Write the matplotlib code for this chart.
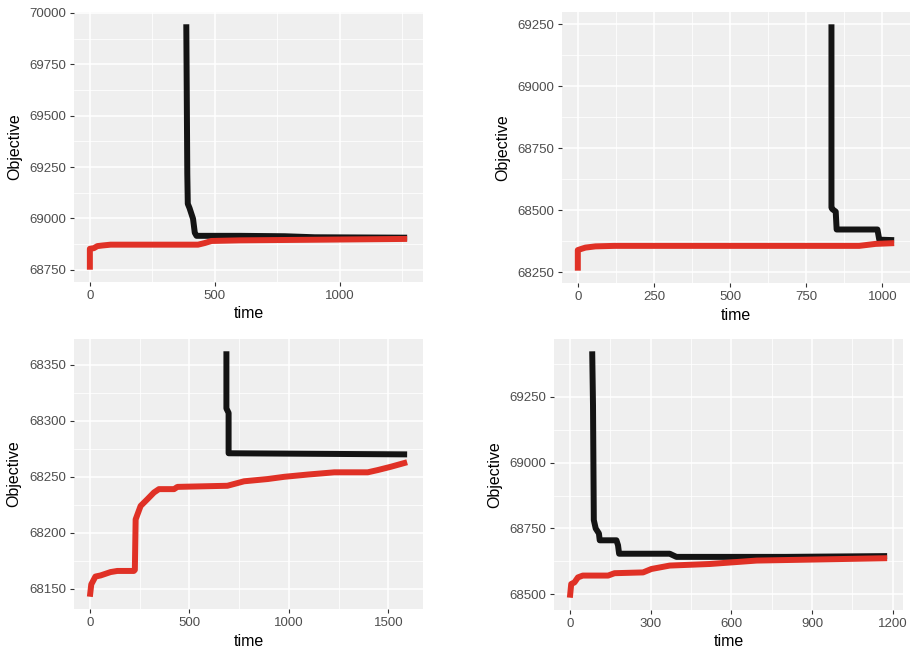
import numpy as np
import matplotlib.pyplot as plt
from matplotlib.ticker import MultipleLocator

plt.rcParams['font.family'] = ['Liberation Sans', 'DejaVu Sans']

# ---- panel 1 (top-left) ----
p1_black_t = [386, 390, 392, 399, 413, 420, 427, 600, 780, 900, 1270]
p1_black_y = [69945, 69217, 69071, 69050, 68998, 68930, 68915, 68915, 68913, 68908, 68906]
p1_red_t = [0, 0, 16, 30, 50, 83, 200, 433, 460, 487, 600, 900, 1270]
p1_red_y = [68750, 68852, 68855, 68865, 68868, 68872, 68872, 68872, 68880, 68890, 68893, 68896, 68900]

# ---- panel 2 (top-right) ----
p2_black_t = [833, 833, 836, 847, 850, 984, 990, 1039]
p2_black_y = [69250, 68511, 68505, 68495, 68423, 68423, 68382, 68380]
p2_red_t = [0, 0, 12, 25, 58, 120, 500, 924, 978, 1039]
p2_red_y = [68257, 68340, 68345, 68350, 68355, 68357, 68357, 68357, 68365, 68368]

# ---- panel 3 (bottom-left) ----
p3_black_t = [686, 686, 697, 697, 1594]
p3_black_y = [68362, 68311, 68307, 68271, 68270]
p3_red_t = [0, 7, 28, 54, 104, 138, 221, 226, 230, 255, 289, 322, 347, 423, 440,
            691, 775, 893, 977, 1094, 1228, 1396, 1446, 1513, 1594]
p3_red_y = [68143, 68154, 68161, 68162, 68165, 68166, 68166, 68167, 68212, 68224, 68230,
            68236, 68239, 68239, 68241, 68242, 68246, 68248, 68250, 68252, 68254, 68254,
            68256, 68259, 68263]

# ---- panel 4 (bottom-right) ----
p4_black_t = [83, 86, 89, 96, 108, 111, 173, 179, 183, 371, 396, 800, 1179]
p4_black_y = [69423, 69218, 68782, 68750, 68731, 68705, 68705, 68686, 68654, 68654, 68642, 68642, 68645]
p4_red_t = [0, 5, 17, 30, 48, 142, 166, 272, 303, 371, 520, 694, 1179]
p4_red_y = [68487, 68539, 68545, 68564, 68571, 68571, 68580, 68583, 68596, 68609, 68615, 68628, 68637]

panels = [
    (p1_black_t, p1_black_y, p1_red_t, p1_red_y, 500, 250, [74, 12, 423, 282]),
    (p2_black_t, p2_black_y, p2_red_t, p2_red_y, 250, 250, [562, 12, 910, 283]),
    (p3_black_t, p3_black_y, p3_red_t, p3_red_y, 500, 50, [74, 339, 423, 609]),
    (p4_black_t, p4_black_y, p4_red_t, p4_red_y, 300, 250, [554, 339, 903, 610]),
]

W, H = 912, 653
fig = plt.figure(figsize=(W / 100, H / 100), dpi=100)

for bt, by, rt, ry, xstep, ystep, box in panels:
    l, t, r, b = box
    ax = fig.add_axes([l / W, 1 - b / H, (r - l) / W, (b - t) / H])
    ax.set_facecolor('#EFEFEF')
    for s in ax.spines.values():
        s.set_visible(False)

    ax.plot(bt, by, color='#141414', lw=4.3, solid_capstyle='butt', zorder=3)
    ax.plot(rt, ry, color='#E03126', lw=4.3, solid_capstyle='butt', zorder=4)

    # ggplot-style 5% expansion
    allt = bt + rt
    ally = by + ry
    xr = max(allt) - min(allt)
    yr = max(ally) - min(ally)
    ax.set_xlim(min(allt) - 0.05 * xr, max(allt) + 0.05 * xr)
    ax.set_ylim(min(ally) - 0.05 * yr, max(ally) + 0.05 * yr)

    ax.xaxis.set_major_locator(MultipleLocator(xstep))
    ax.xaxis.set_minor_locator(MultipleLocator(xstep / 2))
    ax.yaxis.set_major_locator(MultipleLocator(ystep))
    ax.yaxis.set_minor_locator(MultipleLocator(ystep / 2))
    ax.grid(which='major', color='white', lw=1.1, zorder=0)
    ax.grid(which='minor', color='white', lw=0.55, zorder=0)
    ax.set_axisbelow(True)
    ax.tick_params(which='major', length=3, width=0.8, color='#333333',
                   labelsize=9.5, labelcolor='#4D4D4D', pad=2.5)
    ax.tick_params(which='minor', length=0)

    ax.set_xlabel('time', fontsize=11.5, labelpad=3.5)
    ax.set_ylabel('Objective', fontsize=11.5, labelpad=5.5)

fig.savefig('out.png', dpi=100)
